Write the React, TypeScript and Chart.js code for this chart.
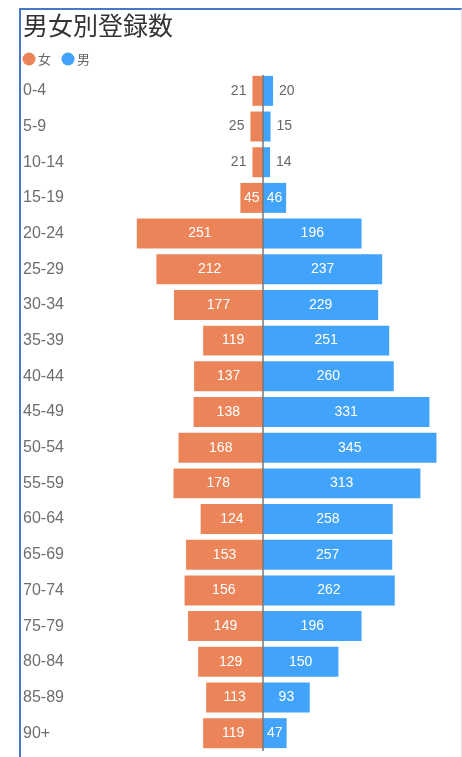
import React, { useEffect, useRef } from "react";
import { Chart, registerables } from "chart.js";

Chart.register(...registerables);

const categories = ["0-4","5-9","10-14","15-19","20-24","25-29","30-34","35-39","40-44","45-49","50-54","55-59","60-64","65-69","70-74","75-79","80-84","85-89","90+"];
const female = [21,25,21,45,251,212,177,119,137,138,168,178,124,153,156,149,129,113,119];
const male = [20,15,14,46,196,237,229,251,260,331,345,313,258,257,262,196,150,93,47];

const ORANGE = "rgb(235,133,89)";
const BLUE = "rgb(66,163,250)";
const FONT = "'Liberation Sans', 'Noto Sans CJK JP', sans-serif";
const CJK = "'Noto Sans CJK JP', sans-serif";

const centerLine = {
  id: "centerLine",
  afterDatasetsDraw(chart: any) {
    const x = chart.scales.x.getPixelForValue(0);
    const { top, bottom } = chart.chartArea;
    const ctx = chart.ctx;
    ctx.save();
    ctx.strokeStyle = "#777";
    ctx.lineWidth = 1.5;
    ctx.beginPath();
    ctx.moveTo(x, top + 2);
    ctx.lineTo(x, bottom);
    ctx.stroke();
    ctx.restore();
  },
};

const valueLabels = {
  id: "valueLabels",
  afterDatasetsDraw(chart: any) {
    const ctx = chart.ctx;
    ctx.save();
    ctx.font = "14px " + FONT;
    ctx.textBaseline = "middle";
    chart.data.datasets.forEach((ds: any, di: number) => {
      const meta = chart.getDatasetMeta(di);
      meta.data.forEach((bar: any, i: number) => {
        const v = Math.abs(ds.data[i]);
        const text = String(v);
        const tw = ctx.measureText(text).width;
        const left = Math.min(bar.x, bar.base);
        const right = Math.max(bar.x, bar.base);
        const w = right - left;
        if (tw + 2 <= w) {
          ctx.fillStyle = "#fff";
          ctx.textAlign = "center";
          ctx.fillText(text, (left + right) / 2, bar.y);
        } else {
          ctx.fillStyle = "#666";
          if (ds.data[i] < 0) {
            ctx.textAlign = "right";
            ctx.fillText(text, left - 6, bar.y);
          } else {
            ctx.textAlign = "left";
            ctx.fillText(text, right + 6, bar.y);
          }
        }
      });
    });
    ctx.restore();
  },
};

const customLegend = {
  id: "customLegend",
  afterDraw(chart: any) {
    const ctx = chart.ctx;
    const items = [
      { text: chart.data.datasets[0].label, color: ORANGE, cx: 8, tx: 17 },
      { text: chart.data.datasets[1].label, color: BLUE, cx: 47, tx: 56 },
    ];
    const y = 49;
    ctx.save();
    ctx.font = "13px " + CJK;
    ctx.textBaseline = "middle";
    ctx.textAlign = "left";
    items.forEach((it) => {
      ctx.fillStyle = it.color;
      ctx.beginPath();
      ctx.arc(it.cx, y, 6.5, 0, Math.PI * 2);
      ctx.fill();
      ctx.fillStyle = "#666";
      ctx.fillText(it.text, it.tx, y);
    });
    ctx.restore();
  },
};

export default function App() {
  const ref = useRef<HTMLCanvasElement>(null);
  useEffect(() => {
    if (!ref.current) return;
    const chart = new Chart(ref.current, {
      type: "bar",
      data: {
        labels: categories,
        datasets: [
          { label: "女", data: female.map((v) => -v), backgroundColor: ORANGE, barPercentage: 0.84, categoryPercentage: 1 },
          { label: "男", data: male, backgroundColor: BLUE, barPercentage: 0.84, categoryPercentage: 1 },
        ],
      },
      options: {
        indexAxis: "y",
        animation: false,
        responsive: false,
        layout: { padding: { left: 2, right: 22, bottom: 8, top: 0 } },
        scales: {
          x: { stacked: true, min: -350, max: 350, display: false },
          y: {
            stacked: true,
            grid: { display: false },
            border: { display: false },
            ticks: { crossAlign: "far", color: "#6e6e6e", font: { size: 16, family: FONT } },
            afterFit: (s: any) => {
              s.width = 64;
              s.paddingTop = 0;
              s.paddingBottom = 0;
            },
          },
        },
        plugins: {
          title: {
            display: true,
            text: "男女別登録数",
            align: "start",
            color: "#333",
            font: { size: 25, weight: "normal", family: CJK },
            padding: { top: 0, bottom: 33 },
          },
          legend: { display: false },
          tooltip: { enabled: false },
        },
      },
      plugins: [centerLine, valueLabels, customLegend],
    } as any);
    return () => chart.destroy();
  }, []);
  return (
    <div
      style={{
        position: "absolute",
        left: 19,
        top: 8,
        width: 440,
        height: 749,
        borderTop: "2px solid #4a78c8",
        borderLeft: "2px solid #4a78c8",
        borderRight: "1px solid #e0e0e0",
        background: "#fff",
      }}
    >
      <canvas ref={ref} width={440} height={749} style={{ display: "block" }} />
    </div>
  );
}
